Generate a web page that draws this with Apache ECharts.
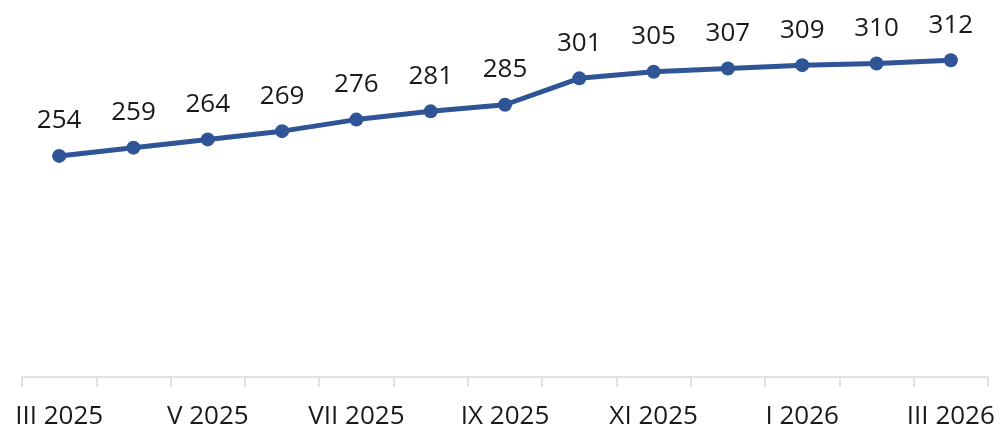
<!DOCTYPE html>
<html>
<head>
<meta charset="utf-8">
<script src="https://cdn.jsdelivr.net/npm/echarts@6/dist/echarts.min.js"></script>
<style>
  html, body { margin: 0; padding: 0; background: #fff; }
  #chart { width: 1002px; height: 430px; }
</style>
</head>
<body>
<div id="chart"></div>
<script>
const months = ["III 2025", "IV 2025", "V 2025", "VI 2025", "VII 2025", "VIII 2025", "IX 2025",
  "X 2025", "XI 2025", "XII 2025", "I 2026", "II 2026", "III 2026"];
const values = [254, 259, 264, 269, 276, 281, 285, 301, 305, 307, 309, 310, 312];

const chart = echarts.init(document.getElementById('chart'));
chart.setOption({
  animation: false,
  textStyle: { fontFamily: 'Open Sans' },
  grid: { left: 22, right: 14, top: 14, bottom: 53 },
  xAxis: {
    type: 'category',
    data: months,
    boundaryGap: true,
    axisLine: { lineStyle: { color: '#d9d9d9', width: 1.5 } },
    axisTick: { show: true, length: 10, interval: 0, lineStyle: { color: '#d9d9d9', width: 1.5 } },
    axisLabel: { interval: 1, margin: 27, fontSize: 26, color: '#1a1a1a', hideOverlap: false }
  },
  yAxis: {
    type: 'value',
    min: 120,
    max: 340,
    show: false
  },
  series: [{
    type: 'line',
    data: values,
    symbol: 'circle',
    symbolSize: 14,
    lineStyle: { color: '#2f5597', width: 5 },
    itemStyle: { color: '#2f5597' },
    label: { show: true, position: 'top', distance: 15, fontSize: 26, color: '#1a1a1a' }
  }]
});
</script>
</body>
</html>
